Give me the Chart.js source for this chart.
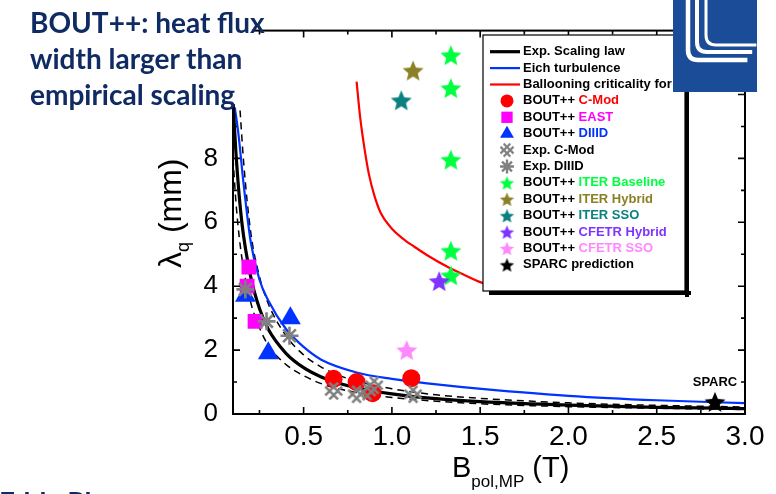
<!DOCTYPE html>
<html>
<head>
<meta charset="utf-8">
<script src="https://cdn.jsdelivr.net/npm/chart.js@4/dist/chart.umd.min.js"></script>
<style>
  html, body { margin: 0; padding: 0; background: #fff; overflow: hidden; }
  #wrap { position: relative; width: 776px; height: 494px; overflow: hidden; }
  #chart { position: absolute; left: 0; top: 0; }
  .note { position: absolute; font: bold 28px Lato, "Open Sans", sans-serif; color: #102a63; line-height: 36px; white-space: nowrap; }
</style>
</head>
<body>
<div id="wrap">
  <canvas id="chart" width="776" height="494"></canvas>
  <div class="note" style="left:30px; top:4px;">BOUT++: heat flux<br>width larger than<br>empirical scaling</div>
  <div class="note" style="left:-1px; top:484px;">Eddy Plasma</div>
</div>
<script>
// ---- data ----
const xTicks = [0.5, 1.0, 1.5, 2.0, 2.5, 3.0];
const yTicks = [0, 2, 4, 6, 8];

// curves
const scalingX = [0.10, 0.12, 0.15, 0.20, 0.25, 0.30, 0.40, 0.50, 0.60, 0.70, 0.80, 1.00, 1.25, 1.50, 2.00, 2.50, 3.00];
const scalingY = [9.8, 7.9, 6.0, 4.3, 3.3, 2.65, 1.9, 1.45, 1.16, 0.96, 0.82, 0.63, 0.48, 0.39, 0.28, 0.21, 0.17];
const upperX   = [0.14, 0.16, 0.20, 0.25, 0.30, 0.40, 0.50, 0.60, 0.70, 0.80, 1.00, 1.25, 1.50, 2.00, 2.50, 3.00];
const upperY   = [9.5, 7.9, 5.7, 4.3, 3.45, 2.45, 1.85, 1.47, 1.21, 1.03, 0.79, 0.60, 0.49, 0.35, 0.27, 0.22];
const lowerX   = [0.10, 0.12, 0.15, 0.20, 0.25, 0.30, 0.40, 0.50, 0.60, 0.70, 0.80, 1.00, 1.25, 1.50, 2.00, 2.50, 3.00];
const lowerY   = [8.0, 6.4, 4.9, 3.5, 2.7, 2.15, 1.55, 1.2, 0.95, 0.79, 0.67, 0.52, 0.40, 0.32, 0.23, 0.18, 0.14];
const eichX    = [0.11, 0.13, 0.16, 0.20, 0.25, 0.30, 0.40, 0.50, 0.60, 0.80, 1.00, 1.20, 1.40, 1.60, 2.00, 2.50, 3.00];
const eichY    = [9.6, 8.8, 7.2, 5.4, 4.2, 3.55, 2.66, 2.1, 1.7, 1.3, 1.1, 0.96, 0.84, 0.74, 0.57, 0.43, 0.34];
const balloonX = [0.80, 0.82, 0.845, 0.87, 0.90, 0.936, 1.00, 1.06, 1.123, 1.20, 1.317, 1.40, 1.504, 1.60];
const balloonY = [10.4, 9.3, 8.3, 7.5, 6.85, 6.3, 5.8, 5.5, 5.25, 4.97, 4.6, 4.38, 4.12, 3.95];

// markers
const cmodBoutX = [0.67, 0.80, 0.89, 1.11];
const cmodBoutY = [1.10, 1.00, 0.65, 1.12];
const eastX = [0.19, 0.18, 0.225];
const eastY = [4.6, 4.0, 2.9];
const diiidX = [0.17, 0.30, 0.425];
const diiidY = [3.7, 1.9, 3.0];
const cmodExpX = [0.67, 0.80, 0.86, 0.90, 1.12];
const cmodExpY = [0.72, 0.62, 0.70, 0.90, 0.62];
const diiidExpX = [0.17, 0.29, 0.42];
const diiidExpY = [3.9, 2.9, 2.45];
const iterBaseX = [1.334, 1.334, 1.334, 1.334, 1.334];
const iterBaseY = [11.23, 10.2, 7.96, 5.11, 4.34];
const iterHybX = [1.12], iterHybY = [10.75];
const iterSsoX = [1.053], iterSsoY = [9.82];
const cfetrHybX = [1.268], cfetrHybY = [4.16];
const cfetrSsoX = [1.084], cfetrSsoY = [2.0];
const sparcX = [2.83], sparcY = [0.38];

const pts = (xs, ys) => xs.map((x, i) => ({x: x, y: ys[i]}));

// ---- marker images ----
function starImg(color, r) {
  const s = Math.ceil(r * 2 + 4);
  const c = document.createElement('canvas');
  c.width = c.height = s;
  const g = c.getContext('2d');
  g.fillStyle = color;
  g.beginPath();
  for (let i = 0; i < 10; i++) {
    const a = -Math.PI / 2 + i * Math.PI / 5;
    const rr = i % 2 ? r * 0.45 : r;
    g.lineTo(s / 2 + rr * Math.cos(a), s / 2 + rr * Math.sin(a) + r * 0.1);
  }
  g.closePath();
  g.fill();
  return c;
}
function latticeImg(color, r, w) {
  const s = Math.ceil(r * 2 + 6);
  const c = document.createElement('canvas');
  c.width = c.height = s;
  const g = c.getContext('2d');
  g.translate(s / 2, s / 2);
  g.rotate(Math.PI / 4);
  g.strokeStyle = color;
  g.lineWidth = w;
  const d = r * 0.32;
  g.beginPath();
  [-d, d].forEach(o => {
    g.moveTo(o, -r); g.lineTo(o, r);
    g.moveTo(-r, o); g.lineTo(r, o);
  });
  g.stroke();
  return c;
}

const C = {
  red: '#ff0000', magenta: '#ff00ff', blue: '#0033ff', gray: '#808080',
  green: '#00ff40', olive: '#8b8026', teal: '#0a8080', purple: '#7f33ff', pink: '#ff88ff'
};

const lineDs = (label, xs, ys, color, width, dash, order) => ({
  type: 'line', label: label, data: pts(xs, ys), borderColor: color, borderWidth: width,
  borderDash: dash || [], pointRadius: 0, fill: false, cubicInterpolationMode: 'monotone', order: order
});
const ptDs = (label, xs, ys, style, color, radius, order, extra) => Object.assign({
  type: 'scatter', label: label, data: pts(xs, ys), pointStyle: style, pointRadius: radius,
  backgroundColor: color, borderColor: color, borderWidth: 0, order: order
}, extra || {});

const datasets = [
  lineDs('upper', upperX, upperY, '#000', 1.5, [7, 5], 30),
  lineDs('lower', lowerX, lowerY, '#000', 1.5, [7, 5], 30),
  lineDs('Eich turbulence', eichX, eichY, C.blue, 2.2, null, 29),
  lineDs('Exp. Scaling law', scalingX, scalingY, '#000', 3.2, null, 28),
  lineDs('Ballooning criticality for', balloonX, balloonY, C.red, 2.2, null, 27),
  ptDs('BOUT++ DIIID', diiidX, diiidY, 'triangle', C.blue, 12, 20),
  ptDs('BOUT++ EAST', eastX, eastY, 'rect', C.magenta, 10.5, 19),
  ptDs('BOUT++ C-Mod', cmodBoutX, cmodBoutY, 'circle', C.red, 9, 18),
  ptDs('Exp. C-Mod', cmodExpX, cmodExpY, latticeImg(C.gray, 9, 2.6), C.gray, 9, 17),
  ptDs('Exp. DIIID', diiidExpX, diiidExpY, 'star', C.gray, 9, 16, {borderWidth: 2.6}),
  ptDs('BOUT++ ITER Baseline', iterBaseX, iterBaseY, starImg(C.green, 11), C.green, 11, 15),
  ptDs('BOUT++ ITER Hybrid', iterHybX, iterHybY, starImg(C.olive, 11), C.olive, 11, 14),
  ptDs('BOUT++ ITER SSO', iterSsoX, iterSsoY, starImg(C.teal, 11), C.teal, 11, 13),
  ptDs('BOUT++ CFETR Hybrid', cfetrHybX, cfetrHybY, starImg(C.purple, 11), C.purple, 11, 12),
  ptDs('BOUT++ CFETR SSO', cfetrSsoX, cfetrSsoY, starImg(C.pink, 11), C.pink, 11, 11),
  ptDs('SPARC prediction', sparcX, sparcY, starImg('#000', 11), '#000', 11, 10)
];

// legend rows: [prefix, name, name colour, sample]
const legendRows = [
  ['', 'Exp. Scaling law', '#000', {line: '#000', w: 3.2}],
  ['', 'Eich turbulence', '#000', {line: C.blue, w: 2.2}],
  ['', 'Ballooning criticality for', '#000', {line: C.red, w: 2.2}],
  ['BOUT++ ', 'C-Mod', C.red, {style: 'circle', color: C.red, r: 6.5}],
  ['BOUT++ ', 'EAST', C.magenta, {style: 'rect', color: C.magenta, r: 8}],
  ['BOUT++ ', 'DIIID', C.blue, {style: 'triangle', color: C.blue, r: 8}],
  ['', 'Exp. C-Mod', '#000', {img: latticeImg(C.gray, 7, 2.2)}],
  ['', 'Exp. DIIID', '#000', {style: 'star', color: C.gray, r: 7, bw: 2.4}],
  ['BOUT++ ', 'ITER Baseline', C.green, {img: starImg(C.green, 7.5)}],
  ['BOUT++ ', 'ITER Hybrid', C.olive, {img: starImg(C.olive, 7.5)}],
  ['BOUT++ ', 'ITER SSO', C.teal, {img: starImg(C.teal, 7.5)}],
  ['BOUT++ ', 'CFETR Hybrid', C.purple, {img: starImg(C.purple, 7.5)}],
  ['BOUT++ ', 'CFETR SSO', C.pink, {img: starImg(C.pink, 7.5)}],
  ['', 'SPARC prediction', '#000', {img: starImg('#000', 7.5)}]
];

const decor = {
  id: 'decor',
  afterDraw(chart) {
    const ctx = chart.ctx, a = chart.chartArea;
    const xs = chart.scales.x, ys = chart.scales.y;
    ctx.save();
    // frame
    ctx.strokeStyle = '#000';
    ctx.lineWidth = 2;
    ctx.strokeRect(a.left, a.top, a.right - a.left, a.bottom - a.top);
    // inward ticks on all four sides
    ctx.lineWidth = 1.6;
    ctx.beginPath();
    for (let v = 0.25; v < 3.0; v += 0.25) {
      const px = xs.getPixelForValue(v);
      const len = Math.abs(v * 2 - Math.round(v * 2)) < 1e-6 ? 7 : 4;
      ctx.moveTo(px, a.bottom); ctx.lineTo(px, a.bottom - len);
      ctx.moveTo(px, a.top); ctx.lineTo(px, a.top + len);
    }
    for (let v = 1; v < 12; v++) {
      const py = ys.getPixelForValue(v);
      const len = v % 2 === 0 ? 7 : 4;
      ctx.moveTo(a.left, py); ctx.lineTo(a.left + len, py);
      ctx.moveTo(a.right, py); ctx.lineTo(a.right - len, py);
    }
    ctx.stroke();

    // white box behind the slide title
    ctx.fillStyle = '#fff';
    ctx.fillRect(0, 0, 372, 24);
    ctx.fillRect(0, 0, 252, 104);

    // SPARC label
    ctx.fillStyle = '#000';
    ctx.font = 'bold 13px "Liberation Sans", Arial, sans-serif';
    ctx.textAlign = 'center';
    ctx.textBaseline = 'middle';
    ctx.fillText('SPARC', xs.getPixelForValue(sparcX[0]), ys.getPixelForValue(sparcY[0]) - 19);

    // axis titles
    ctx.font = '29px "Liberation Sans", Arial, sans-serif';
    ctx.textAlign = 'left';
    ctx.textBaseline = 'alphabetic';
    let x0 = 452, yb = 477;
    ctx.fillText('B', x0, yb);
    let w = ctx.measureText('B').width;
    ctx.font = '17px "Liberation Sans", Arial, sans-serif';
    ctx.fillText('pol,MP', x0 + w, yb + 10);
    w += ctx.measureText('pol,MP').width;
    ctx.font = '29px "Liberation Sans", Arial, sans-serif';
    ctx.fillText(' (T)', x0 + w, yb);

    ctx.save();
    ctx.translate(181, 268);
    ctx.rotate(-Math.PI / 2);
    ctx.font = '32px "Liberation Sans", Arial, sans-serif';
    ctx.fillText('\u03bb', 0, 0);
    w = ctx.measureText('\u03bb').width;
    ctx.font = '18px "Liberation Sans", Arial, sans-serif';
    ctx.fillText('q', w, 8);
    w += ctx.measureText('q').width;
    ctx.font = '32px "Liberation Sans", Arial, sans-serif';
    ctx.fillText(' (mm)', w, 0);
    ctx.restore();

    // legend box with shadow
    const L = 483, T = 35, R = 685, B = 291;
    ctx.fillStyle = '#000';
    ctx.fillRect(L + 6, B, R - L, 4);
    ctx.fillRect(R, T + 6, 4, B - T);
    ctx.fillStyle = '#fff';
    ctx.fillRect(L, T, R - L, B - T);
    ctx.strokeStyle = '#000';
    ctx.lineWidth = 1.2;
    ctx.strokeRect(L, T, R - L, B - T);
    ctx.font = 'bold 13px "Liberation Sans", Arial, sans-serif';
    ctx.textBaseline = 'middle';
    ctx.textAlign = 'left';
    legendRows.forEach((row, i) => {
      const y = 51.7 + i * 16.4;
      const s = row[3];
      if (s.line) {
        ctx.strokeStyle = s.line; ctx.lineWidth = s.w;
        ctx.beginPath(); ctx.moveTo(490, y); ctx.lineTo(520, y); ctx.stroke();
      } else if (s.img) {
        ctx.drawImage(s.img, 507 - s.img.width / 2, y - s.img.height / 2);
      } else {
        ctx.fillStyle = s.color; ctx.strokeStyle = s.color; ctx.lineWidth = s.bw || 0.01;
        Chart.helpers.drawPoint(ctx, {pointStyle: s.style, radius: s.r, borderWidth: s.bw || 0}, 507, y);
      }
      let tx = 523;
      ctx.fillStyle = '#000';
      if (row[0]) { ctx.fillText(row[0], tx, y); tx += ctx.measureText(row[0]).width; }
      ctx.fillStyle = row[2];
      ctx.fillText(row[1], tx, y);
    });

    // lab logo in the corner
    ctx.fillStyle = '#1b4c98';
    ctx.fillRect(673, 0, 84, 92);
    ctx.strokeStyle = '#fff';
    ctx.lineCap = 'butt';
    [[688, 4.5, 60], [697, 4, 52], [706, 3, 45]].forEach(([x, lw, yb2]) => {
      ctx.lineWidth = lw;
      ctx.beginPath();
      ctx.moveTo(x, 0);
      ctx.lineTo(x, yb2 - 10);
      ctx.quadraticCurveTo(x, yb2, x + 10, yb2);
      ctx.lineTo(757 - (yb2 - 44) * 0.6, yb2);
      ctx.stroke();
    });
    ctx.restore();
  }
};

new Chart(document.getElementById('chart'), {
  data: {datasets: datasets},
  options: {
    responsive: false,
    animation: false,
    events: [],
    layout: {padding: {top: 25, right: 31, left: 0, bottom: 0}},
    plugins: {legend: {display: false}, tooltip: {enabled: false}},
    scales: {
      x: {
        type: 'linear', min: 0.1, max: 3.0,
        grid: {display: false, drawTicks: false},
        border: {display: false},
        afterBuildTicks: s => { s.ticks = xTicks.map(v => ({value: v})); },
        afterFit: s => { s.height = 80; },
        ticks: {
          padding: 6, color: '#000', maxRotation: 0,
          font: {family: '"Liberation Sans", Arial, sans-serif', size: 28},
          callback: v => v.toFixed(1)
        }
      },
      y: {
        type: 'linear', min: 0, max: 12,
        grid: {display: false, drawTicks: false},
        border: {display: false},
        afterBuildTicks: s => { s.ticks = yTicks.map(v => ({value: v})); },
        afterFit: s => { s.width = 233; },
        ticks: {
          padding: 15, color: '#000',
          font: {family: '"Liberation Sans", Arial, sans-serif', size: 26},
          callback: v => String(v)
        }
      }
    }
  },
  plugins: [decor]
});
</script>
</body>
</html>
